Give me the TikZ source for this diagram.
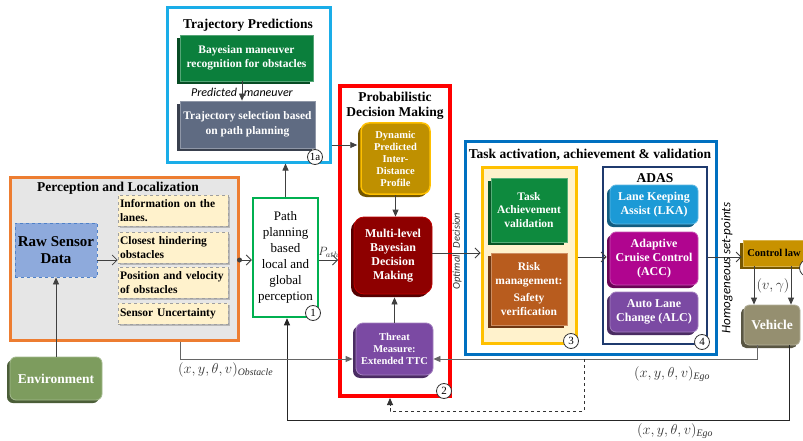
\documentclass[tikz,border=0pt]{standalone}
\usepackage{fontspec}
\setmainfont{Liberation Serif}
\newfontfamily\calib{Carlito}
\usetikzlibrary{arrows.meta,shadows,calc}
\newcommand\myfs[2]{\fontsize{#1}{#2}\selectfont}
\definecolor{cyanc}{HTML}{1AADE8}
\definecolor{bayc}{HTML}{0B7F3C}
\definecolor{slatec}{HTML}{5F6B82}
\definecolor{orangec}{HTML}{ED7D31}
\definecolor{percc}{HTML}{E6E6E6}
\definecolor{rawc}{HTML}{8EAADC}
\definecolor{rawb}{HTML}{4F81C8}
\definecolor{creamc}{HTML}{FFF2CC}
\definecolor{pathc}{HTML}{00B050}
\definecolor{dync}{HTML}{BF9000}
\definecolor{dynb}{HTML}{FFC000}
\definecolor{mlc}{HTML}{8E0000}
\definecolor{threatc}{HTML}{7B4AA3}
\definecolor{taskc}{HTML}{0070C0}
\definecolor{yelc}{HTML}{FFC000}
\definecolor{achc}{HTML}{0E8A3E}
\definecolor{riskc}{HTML}{B85C1E}
\definecolor{adasc}{HTML}{1F3A6E}
\definecolor{lkac}{HTML}{1C9AD6}
\definecolor{accc}{HTML}{B0058F}
\definecolor{ctrlc}{HTML}{C89200}
\definecolor{vehc}{HTML}{958F70}
\definecolor{envc}{HTML}{7D9C5E}
\definecolor{linec}{HTML}{404040}
\tikzset{
  bev/.style={rectangle, fill=#1, draw=#1!70!white, line width=0.8pt, text=white,
    align=center, inner sep=1pt,
    general shadow={fill=#1!60!black, shadow xshift=-3pt, shadow yshift=-3pt}},
  bigbox/.style={rectangle, inner sep=0pt},
  cream/.style={rectangle, fill=creamc, draw=gray!75, dashed, line width=0.6pt,
    text=black, font=\bfseries\myfs{11.5}{14}, align=left, text width=106pt,
    inner sep=2pt, general shadow={fill=gray!55, shadow xshift=1.5pt, shadow yshift=-1.5pt}},
  ttl/.style={font=\bfseries\myfs{13.5}{15}, inner sep=0pt, align=center},
  numc/.style={circle, draw=black!80, line width=0.8pt, fill=white, minimum size=15pt,
    inner sep=0pt, font=\myfs{11}{12}},
  fillarr/.style={draw=linec, line width=0.8pt, -{Triangle[length=7pt,width=6pt]}},
  openarr/.style={draw=linec, line width=0.8pt, -{Straight Barb[length=5pt,width=10pt]}},
  lbl/.style={inner sep=1pt, text=black!80},
}
\begin{document}
\begin{tikzpicture}[x=1pt,y=-1pt]
\useasboundingbox[fill=white] (0,0) rectangle (803,441);

% ---------- containers ----------
\node[bigbox, draw=cyanc, line width=3pt, fill=white, minimum width=163pt, minimum height=154pt] (traj) at (248.5,85) {};
\node[bigbox, draw=orangec, line width=3pt, fill=percc, minimum width=228pt, minimum height=163pt] (percep) at (124,258.5) {};
\node[bigbox, draw=red, line width=4pt, fill=white, minimum width=110pt, minimum height=310pt] (red) at (395,241) {};
\node[bigbox, draw=taskc, line width=3pt, fill=white, minimum width=251pt, minimum height=212pt] (task) at (590.5,248) {};
\node[bigbox, draw=yelc, line width=3pt, fill=creamc, minimum width=94pt, minimum height=176pt] (yellow) at (529,255) {};
\node[bigbox, draw=adasc, line width=2.5pt, fill=white, minimum width=104pt, minimum height=177pt] (adas) at (655,255.5) {};
\node[bigbox, draw=pathc, line width=2.5pt, fill=white, minimum width=65pt, minimum height=119pt,
  font=\myfs{13}{16}, align=center] (path) at (285.5,257.5) {Path\\planning\\based\\local and\\global\\perception};

% ---------- titles ----------
\node[ttl] (trajT) at (248,25) {Trajectory Predictions};
\node[ttl] (percT) at (118,188) {Perception and Localization};
\node[ttl] (redT) at (395,105.5) {Probabilistic\\Decision Making};
\node[ttl] (taskT) at (590,155) {Task activation, achievement \& validation};
\node[ttl] (adasT) at (655,178) {ADAS};

% ---------- trajectory ----------
\node[bev=bayc, font=\bfseries\myfs{11.5}{14}, minimum width=133pt, minimum height=46pt] (bay) at (246.5,58) {Bayesian maneuver\\recognition for obstacles};
\node[bev=slatec, font=\bfseries\myfs{11.5}{15}, minimum width=135pt, minimum height=47pt] (gray) at (247.5,124.5) {Trajectory selection based\\on path planning};
\node[lbl, font=\calib\itshape\myfs{12}{14}, text=black] (predl) at (242,92) {Predicted\hspace{7pt}maneuver};
\node[numc] (n1a) at (315,157) {1a};

% ---------- perception ----------
\node[rectangle, fill=rawc, draw=rawb, dashed, line width=0.8pt, minimum width=82pt, minimum height=54pt,
  font=\bfseries\myfs{15}{17}, align=center, inner sep=0pt] (raw) at (56,250) {Raw Sensor\\Data};
\node[cream, minimum height=31pt] (info) at (173,210.5) {Information on the\\lanes.};
\node[cream, minimum height=31pt] (closest) at (173,247.5) {Closest hindering\\obstacles};
\node[cream, minimum height=31pt] (posv) at (173,282.5) {Position and velocity\\of obstacles};
\node[cream, minimum height=21pt] (sens) at (173,313.5) {Sensor Uncertainty};

\node[bev=envc, rounded corners=6pt, font=\bfseries\myfs{13.5}{15}, minimum width=92pt, minimum height=43pt] (env) at (56,378.5) {Environment};

% ---------- decision making ----------
\node[bev=dync, draw=dynb, line width=1.5pt, rounded corners=8pt, font=\bfseries\myfs{10.5}{12},
  minimum width=69pt, minimum height=71pt] (dyn) at (395.5,158.5) {Dynamic\\Predicted\\Inter-\\Distance\\Profile};
\node[bev=mlc, draw=red!75!black, rounded corners=10pt, font=\bfseries\myfs{12}{14},
  minimum width=78pt, minimum height=77pt] (ml) at (393,255.5) {Multi-level\\Bayesian\\Decision\\Making};
\node[bev=threatc, draw=threatc!70!white, rounded corners=7pt, font=\bfseries\myfs{10.5}{12},
  minimum width=77pt, minimum height=52pt] (threat) at (394.5,349) {Threat\\Measure:\\Extended TTC};
\node[numc] (n1) at (313,313) {1};
\node[numc] (n2) at (444,391) {2};

% ---------- task activation ----------
\node[bev=achc, font=\bfseries\myfs{11.5}{13.5}, minimum width=76pt, minimum height=64pt] (ach) at (529,210) {Task\\Achievement\\validation};
\node[bev=riskc, font=\bfseries\myfs{11.5}{13.5}, minimum width=76pt, minimum height=72pt] (risk) at (529,289) {Risk\\management:\\[4pt]Safety\\verification};
\node[bev=lkac, rounded corners=6pt, font=\bfseries\myfs{12}{14}, minimum width=88pt, minimum height=39pt] (lka) at (654,204.5) {Lane Keeping\\Assist (LKA)};
\node[bev=accc, rounded corners=6pt, font=\bfseries\myfs{12}{14}, minimum width=88pt, minimum height=53pt] (acc) at (654,258.5) {Adaptive\\Cruise Control\\(ACC)};
\node[bev=threatc, rounded corners=6pt, font=\bfseries\myfs{12}{14}, minimum width=88pt, minimum height=40pt] (alc) at (654,312) {Auto Lane\\Change (ALC)};
\node[numc] (n3) at (571,341) {3};
\node[numc] (n4) at (702,342) {4};

% ---------- control / vehicle ----------
\node[bev=ctrlc, minimum width=77pt, minimum height=26pt] (ctrl) at (781.5,253) {};
\node[inner sep=0pt, font=\bfseries\myfs{10.5}{12}, text=black] (ctrlt) at (774,253) {Control law};
\node[numc, minimum size=17pt] (n5) at (808,268) {};
\node[bev=vehc, rounded corners=5pt, font=\bfseries\myfs{13.5}{15}, minimum width=56pt, minimum height=40pt] (veh) at (772,325) {Vehicle};

% ---------- helper coordinates ----------
\coordinate (lvA) at (0,260);
\coordinate (lvB) at (0,253);
\coordinate (lvC) at (0,257);
\coordinate (lvT) at (0,145);
\coordinate (lvE) at (0,359);
\coordinate (lvD) at (0,411);
\coordinate (lvF) at (0,420);
\coordinate (vx1) at (754,0);
\coordinate (vx2) at (791,0);
\coordinate (vx3) at (757,0);
\coordinate (vx4) at (789,0);
\coordinate (dsplit) at (584,359);
\coordinate (dx) at (390,0);
\coordinate (px) at (287,0);
\coordinate (ox) at (180,0);

% ---------- connectors ----------
\draw[fillarr] (env.north) -- (raw.south);
\draw[openarr] (raw.east|-lvA) -- (closest.west|-lvA);
\fill[linec] (percep.east|-lvA) circle (2.5pt);
\draw[openarr] (percep.east|-lvA) -- (path.west|-lvA);
\draw[fillarr] (path.north) -- (path.north|-traj.south);
\draw[fillarr] (bay.south-|predl) -- (gray.north-|predl);
\draw[fillarr] (traj.east|-lvT) -- ([xshift=-3pt]dyn.west|-lvT);
\draw[openarr] (path.east|-lvA) -- node[lbl, above=1pt, font=\myfs{12}{14}] (pathl) {$P_{ath}$} (red.west|-lvA);
\draw[fillarr] (dyn.south) -- (dyn.south|-ml.north);
\draw[fillarr] (threat.north) -- ([yshift=-3pt]threat.north|-ml.south);
\draw[openarr] (ml.east|-lvB) -- (yellow.west|-lvB);
\node[lbl, rotate=90, font=\calib\itshape\myfs{10.5}{12}] (optl) at (457,251) {Optimal\hspace{7pt}Decision};
\draw[openarr] (yellow.east|-lvC) -- ([xshift=-3pt]lka.west|-lvC);
\draw[openarr] (adas.east|-lvC) -- ([xshift=-1pt]ctrl.west|-lvC);
\node[lbl, rotate=90, font=\calib\itshape\myfs{13}{15}, text=black] (homl) at (727,268) {Homogeneous set-points};
\draw[fillarr] (ctrl.south-|vx1) -- (veh.north-|vx1);
\draw[fillarr] (ctrl.south-|vx2) -- (veh.north-|vx2);
\node[lbl, font=\myfs{14}{16}] (vgl) at (773,286) {$(v,\gamma)$};
\draw[fillarr, draw=black!60] (veh.south-|vx3) |- (threat.east|-lvE);
\node[lbl, font=\myfs{14}{16}] (ego1) at (672,374) {$(x,y,\theta,v)_{\mathit{Ego}}$};
\draw[fillarr, dashed, draw=black!80] (dsplit) -- (dsplit|-lvD) -- (dx|-lvD) -- (dx|-red.south);
\draw[fillarr, draw=black!85] (veh.south-|vx4) -- (vx4|-lvF) -- (px|-lvF) -- (px|-path.south);
\node[lbl, font=\myfs{14}{16}] (ego2) at (675,431) {$(x,y,\theta,v)_{\mathit{Ego}}$};
\draw[fillarr, draw=black!60, shorten >=3pt] (ox|-percep.south) |- (threat.west|-lvE);
\node[lbl, font=\myfs{14}{16}, anchor=west] (obsl) at (177,370) {$(x,y,\theta,v)_{\mathit{Obstacle}}$};
\end{tikzpicture}
\end{document}
